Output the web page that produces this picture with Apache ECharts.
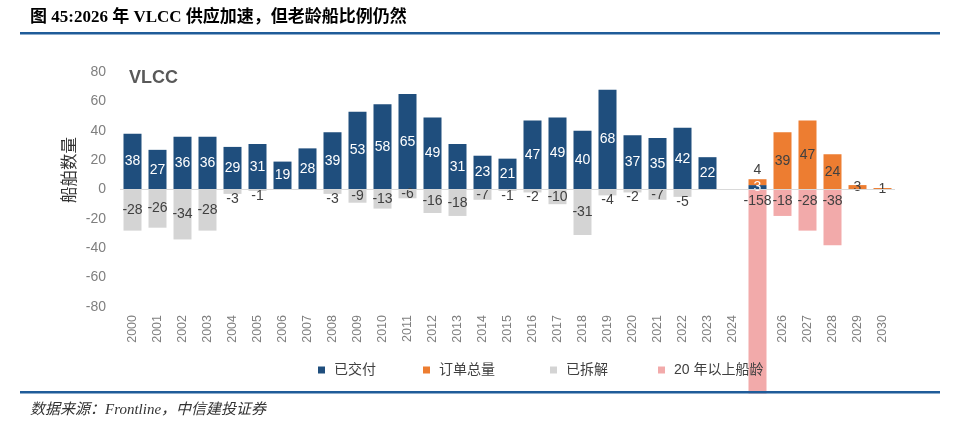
<!DOCTYPE html>
<html>
<head>
<meta charset="utf-8">
<script src="https://cdn.jsdelivr.net/npm/echarts@6/dist/echarts.min.js"></script>
<style>
html,body{margin:0;padding:0;background:#fff;}
#c{width:960px;height:427px;}
</style>
</head>
<body>
<div id="c"></div>
<script>
const years = ['2000','2001','2002','2003','2004','2005','2006','2007','2008','2009','2010','2011','2012','2013','2014','2015','2016','2017','2018','2019','2020','2021','2022','2023','2024','2025','2026','2027','2028','2029','2030'];
const delivered = [38,27,36,36,29,31,19,28,39,53,58,65,49,31,23,21,47,49,40,68,37,35,42,22,null,3,null,null,null,null,null];
const orders    = [null,null,null,null,null,null,null,null,null,null,null,null,null,null,null,null,null,null,null,null,null,null,null,null,null,4,39,47,24,3,1];
const scrapped  = [-28,-26,-34,-28,-3,-1,null,null,-3,-9,-13,-6,-16,-18,-7,-1,-2,-10,-31,-4,-2,-7,-5,null,null,null,null,null,null,null,null];
const over20    = [null,null,null,null,null,null,null,null,null,null,null,null,null,null,null,null,null,null,null,null,null,null,null,null,null,-158,-18,-28,-38,null,null];
const yTicks = [-80,-60,-40,-20,0,20,40,60,80];
const legendNames = ['已交付','订单总量','已拆解','20 年以上船龄'];

const sans = "'Liberation Sans','Noto Sans CJK SC',Arial,sans-serif";
const serif = "'Liberation Serif','Noto Sans CJK SC',serif";
const chart = echarts.init(document.getElementById('c'));

const orderData = orders.map((v,i)=> (i===25) ? {value:v,label:{position:'top',distance:2}} : v);
const scrappedData = scrapped.map(v=> (v!==null && Math.abs(v)<6) ? {value:v,label:{position:'bottom',distance:-2}} : v);

const legendLefts = [313,418,545,653];
const legends = legendNames.map((n,i)=>({
  left:legendLefts[i], top:358, itemWidth:7, itemHeight:7, icon:'rect',
  textStyle:{fontSize:14,color:'#404040',fontFamily:sans,padding:[0,0,0,4]},
  data:[n]
}));

chart.setOption({
  animation:false,
  grid:{left:120,right:65,top:72,bottom:120},
  xAxis:{
    type:'category', data:years,
    axisLine:{show:false,onZero:false}, axisTick:{show:false},
    axisLabel:{rotate:90,fontSize:12.5,color:'#7f7f7f',fontFamily:sans,margin:8,interval:0}
  },
  yAxis:{
    type:'value', min:yTicks[0], max:yTicks[yTicks.length-1], interval:20,
    splitLine:{show:false}, axisLine:{show:false}, axisTick:{show:false},
    axisLabel:{fontSize:14,color:'#7f7f7f',fontFamily:sans,margin:14}
  },
  legend:legends,
  series:[
    {name:'已交付',type:'bar',stack:'a',data:delivered,barWidth:18,
     itemStyle:{color:'#1f4e7d'},
     label:{show:true,position:'inside',color:'#fff',fontSize:14,fontFamily:sans},
     markLine:{silent:true,symbol:'none',label:{show:false},lineStyle:{color:'#d9d9d9',type:'solid',width:1},data:[{yAxis:0}]}
    },
    {name:'订单总量',type:'bar',stack:'a',data:orderData,barWidth:18,
     itemStyle:{color:'#ed7d31'},
     label:{show:true,position:'inside',color:'#404040',fontSize:14,fontFamily:sans}
    },
    {name:'已拆解',type:'bar',stack:'a',data:scrappedData,barWidth:18,
     itemStyle:{color:'#d4d4d4'},
     label:{show:true,position:'inside',color:'#404040',fontSize:14,fontFamily:sans}
    },
    {name:'20 年以上船龄',type:'bar',stack:'a',data:over20,barWidth:18,clip:false,z:1,
     itemStyle:{color:'#f2aaaa'},
     label:{show:true,position:'insideTop',distance:5,color:'#404040',fontSize:14,fontFamily:sans}
    }
  ],
  graphic:[
    {type:'text',left:30,top:9,style:{text:'图 45:2026 年 VLCC 供应加速，但老龄船比例仍然',font:"bold 17px "+serif,fill:'#000'}},
    {type:'rect',shape:{x:20,y:32,width:920,height:2.5},style:{fill:'#1f5c99'}},
    {type:'text',left:129,top:69,style:{text:'VLCC',font:"bold 18px "+sans,fill:'#595959'}},
    {type:'text',x:70,y:170,rotation:Math.PI/2,style:{text:'船舶数量',font:"16.5px "+sans,fill:'#333',textAlign:'center',textVerticalAlign:'middle'}},
    {type:'rect',z:100,shape:{x:20,y:391,width:920,height:2.5},style:{fill:'#1f5c99'}},
    {type:'rect',z:99,shape:{x:740,y:393.5,width:40,height:34},style:{fill:'#fff'}},
    {type:'text',left:30,top:403,style:{text:'数据来源：Frontline，中信建投证券',font:"italic 15px "+serif,fill:'#333'}}
  ]
});
</script>
</body>
</html>
